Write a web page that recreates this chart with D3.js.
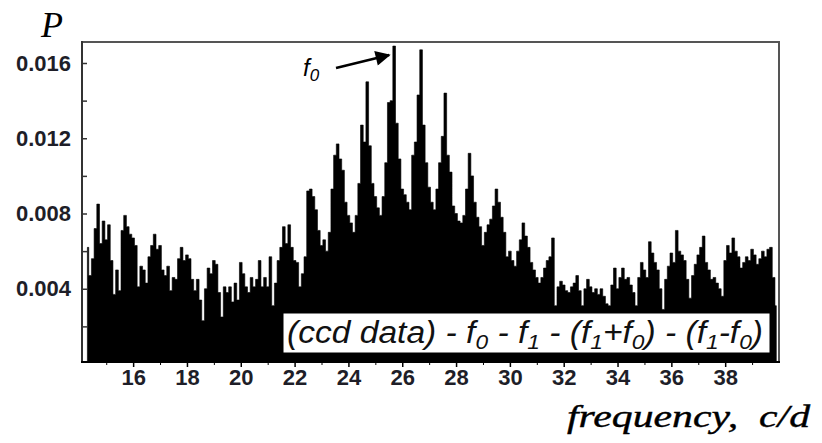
<!DOCTYPE html>
<html>
<head>
<meta charset="utf-8">
<script src="https://cdn.jsdelivr.net/npm/d3@7"></script>
<style>
  body { margin: 0; background: #fff; }
  svg { display: block; }
</style>
</head>
<body>
<svg id="periodogram"></svg>
<script>
// Frequency grid (c/d): first value and spacing of the sampled spectrum
const freqStart = 14.3;
const freqStep = 0.1;

// Power in units of 1e-3, one value per grid step
const power = [
  // 14.3 - 14.9
  6.2, 4.7, 5.6, 7.2, 8.5, 6.4, 7.6,
  // 15.0 - 15.9
  6.6, 7.4, 5.5, 3.7, 5.0, 3.9, 7.1, 7.9, 7.3, 6.9,
  // 16
  6.7, 6.3, 4.1, 5.2, 5.0, 4.3, 5.7, 6.3, 6.9, 6.1,
  // 17
  6.3, 5.0, 4.7, 5.2, 3.9, 4.6, 4.5, 5.6, 6.2, 5.5,
  // 18
  5.8, 5.6, 4.5, 3.9, 4.5, 3.4, 2.3, 4.0, 5.1, 4.8,
  // 19
  5.5, 5.3, 3.8, 2.5, 4.1, 3.8, 4.1, 3.3, 4.3, 3.4,
  // 20
  5.4, 4.8, 4.1, 3.8, 4.6, 4.1, 4.5, 5.5, 4.1, 4.6,
  // 21
  4.1, 5.7, 3.1, 4.3, 5.5, 6.2, 7.3, 6.4, 7.4, 6.2,
  // 22
  5.5, 5.4, 4.1, 4.8, 5.7, 9.2, 9.3, 8.9, 8.2, 7.1,
  // 23
  6.3, 6.6, 6.0, 7.0, 9.3, 11.1, 11.7, 10.9, 10.3, 8.6,
  // 24
  7.9, 7.5, 7.0, 7.9, 9.6, 12.7, 11.8, 15.0, 11.6, 9.6,
  // 25
  8.9, 8.3, 7.9, 8.9, 10.7, 13.9, 14.0, 16.9, 12.8, 10.9,
  // 26
  9.3, 9.0, 8.6, 8.2, 11.1, 11.8, 14.3, 16.7, 12.7, 10.7,
  // 27
  9.4, 8.6, 8.2, 9.3, 10.7, 12.1, 14.4, 11.1, 10.2, 8.4,
  // 28
  8.0, 7.6, 7.5, 7.9, 9.3, 11.2, 10.0, 8.6, 7.8, 7.3,
  // 29
  6.3, 7.0, 7.4, 7.7, 8.4, 9.3, 8.6, 7.8, 7.0, 5.7,
  // 30
  6.0, 5.5, 5.2, 6.0, 6.6, 7.5, 6.8, 6.2, 5.4, 5.0,
  // 31
  4.6, 4.3, 4.6, 5.1, 5.5, 5.7, 6.7, 3.1, 4.1, 4.4,
  // 32
  4.2, 3.9, 3.8, 4.1, 4.3, 4.7, 3.9, 3.1, 4.0, 4.5,
  // 33
  4.1, 3.8, 4.0, 3.7, 4.0, 3.6, 3.2, 3.1, 4.2, 5.1,
  // 34
  4.0, 4.6, 5.1, 4.5, 4.6, 4.2, 3.8, 3.1, 4.6, 5.4,
  // 35
  5.0, 4.6, 6.5, 5.9, 5.4, 5.0, 4.0, 2.9, 4.5, 5.2,
  // 36
  5.9, 5.4, 7.1, 6.0, 5.8, 5.5, 4.5, 3.5, 4.7, 5.3,
  // 37
  5.8, 6.2, 6.8, 5.4, 5.0, 4.5, 4.6, 4.3, 4.0, 3.6,
  // 38
  5.5, 6.3, 5.9, 6.7, 6.0, 5.7, 5.1, 5.4, 5.7, 5.5,
  // 39
  6.1, 5.8, 5.3, 5.6, 6.0, 5.7, 6.1, 6.2, 4.6, 3.1
];

// Axis ticks
const xTicksMajor = [16, 18, 20, 22, 24, 26, 28, 30, 32, 34, 36, 38];
const xTicksMinor = [15, 17, 19, 21, 23, 25, 27, 29, 31, 33, 35, 37, 39];
const yTicksMajor = [0.004, 0.008, 0.012, 0.016];
const yTicksMinor = [0.002, 0.006, 0.010, 0.014];

// Annotated peak (f0)
const f0Peak = [25.7, 0.0169];

/*
 * Layout
 */
const dims = {
  width: 822,
  height: 443,
  left: 82,
  right: 779,
  top: 42,
  bottom: 362
};

const svg = d3.select("#periodogram")
    .attr("width", dims.width)
    .attr("height", dims.height);

let x = d3.scaleLinear()
    .domain([14.1, 40])
    .range([dims.left, dims.right]);

let y = d3.scaleLinear()
    .domain([0, 0.016])
    .range([364, 63]);

let series = power.map((p, i) => [freqStart + i * freqStep, p / 1000]);

// Spectrum, drawn as a filled step area from the axis
let area = d3.area()
    .curve(d3.curveStep)
    .x(d => x(d[0]))
    .y0(dims.bottom)
    .y1(d => y(d[1]));

svg.append("path")
    .datum(series)
    .attr("fill", "#000")
    .attr("stroke", "#000")
    .attr("stroke-width", 0.6)
    .attr("d", area);

// Legend box with the prewhitening note
const note = svg.append("g");
note.append("rect")
    .attr("x", 283)
    .attr("y", 313)
    .attr("width", 487)
    .attr("height", 40)
    .attr("fill", "#fff")
    .attr("stroke", "#000")
    .attr("stroke-width", 1);

let noteText = note.append("text")
    .attr("x", 287)
    .attr("y", 343)
    .style("font-family", "Arial, 'Liberation Sans', sans-serif")
    .style("font-style", "italic")
    .style("font-size", "31px")
    .attr("fill", "#111")
    .attr("textLength", 476)
    .attr("lengthAdjust", "spacingAndGlyphs");

const noteParts = [
  ["(ccd data) - f", 0], ["0", 1], [" - f", 0], ["1", 1], [" - (f", 0], ["1", 1],
  ["+f", 0], ["0", 1], [") - (f", 0], ["1", 1], ["-f", 0], ["0", 1], [")", 0]
];
noteParts.forEach(([t, sub], i) => {
  noteText.append("tspan")
      .attr("dy", sub ? 6 : (i > 0 && noteParts[i - 1][1] ? -6 : 0))
      .style("font-size", sub ? "21px" : "31px")
      .text(t);
});

// Frame: top and right lines
svg.append("path")
    .attr("d", `M${dims.left},${dims.top}H${dims.right}V${dims.bottom}`)
    .attr("fill", "none")
    .attr("stroke", "#555")
    .attr("stroke-width", 2);

// Y axis (ticks pointing inwards)
svg.append("g")
    .attr("transform", `translate(${dims.left},0)`)
    .call(d3.axisRight(y).tickValues(yTicksMinor).tickSize(5).tickFormat(""))
    .call(g => g.select(".domain").remove())
    .call(g => g.selectAll(".tick line").attr("stroke", "#333").attr("stroke-width", 1.5));

svg.append("g")
    .attr("transform", `translate(${dims.left},0)`)
    .call(d3.axisRight(y).tickValues(yTicksMajor).tickSize(5).tickFormat(d3.format(".3f")))
    .call(g => g.select(".domain").remove())
    .call(g => g.selectAll(".tick line").attr("stroke", "#333").attr("stroke-width", 1.5))
    .call(g => g.selectAll(".tick text")
        .attr("x", -11)
        .attr("text-anchor", "end")
        .attr("fill", "#1e1e28")
        .style("font-family", "Arial, 'Liberation Sans', sans-serif")
        .style("font-weight", "bold")
        .style("font-size", "22px"));

svg.append("line")
    .attr("x1", dims.left).attr("x2", dims.left)
    .attr("y1", dims.top - 1).attr("y2", dims.bottom + 1)
    .attr("stroke", "#333")
    .attr("stroke-width", 2);

// X axis (ticks pointing down)
svg.append("g")
    .attr("transform", `translate(0,${dims.bottom})`)
    .call(d3.axisBottom(x).tickValues(xTicksMinor).tickSize(3).tickFormat(""))
    .call(g => g.select(".domain").remove())
    .call(g => g.selectAll(".tick line").attr("stroke", "#000"));

svg.append("g")
    .attr("transform", `translate(0,${dims.bottom})`)
    .call(d3.axisBottom(x).tickValues(xTicksMajor).tickSize(5).tickPadding(2))
    .call(g => g.select(".domain").remove())
    .call(g => g.selectAll(".tick line").attr("stroke", "#000").attr("stroke-width", 1.5))
    .call(g => g.selectAll(".tick text")
        .attr("fill", "#1e1e28")
        .style("font-family", "Arial, 'Liberation Sans', sans-serif")
        .style("font-weight", "bold")
        .style("font-size", "22px"));

svg.append("line")
    .attr("x1", dims.left - 1).attr("x2", dims.right + 1)
    .attr("y1", dims.bottom).attr("y2", dims.bottom)
    .attr("stroke", "#000")
    .attr("stroke-width", 2);

// Axis titles
svg.append("text")
    .attr("x", 41)
    .attr("y", 37)
    .style("font-family", "'Liberation Serif', 'Times New Roman', serif")
    .style("font-style", "italic")
    .style("font-size", "36px")
    .text("P");

svg.append("text")
    .attr("x", 567)
    .attr("y", 427)
    .style("font-family", "'Liberation Serif', 'Times New Roman', serif")
    .style("font-style", "italic")
    .style("font-size", "32px")
    .attr("stroke", "#000")
    .attr("stroke-width", 0.4)
    .attr("xml:space", "preserve")
    .attr("textLength", 243)
    .attr("lengthAdjust", "spacingAndGlyphs")
    .text("frequency,  c/d");

// f0 annotation with arrow
svg.append("defs").append("marker")
    .attr("id", "head")
    .attr("viewBox", "0 0 10 10")
    .attr("refX", 9)
    .attr("refY", 5)
    .attr("markerWidth", 8)
    .attr("markerHeight", 6)
    .attr("orient", "auto")
    .append("path")
    .attr("d", "M0,0L10,5L0,10Z")
    .attr("fill", "#000");

let f0Label = svg.append("text")
    .attr("x", 303)
    .attr("y", 76)
    .style("font-family", "Arial, 'Liberation Sans', sans-serif")
    .style("font-style", "italic")
    .style("font-size", "24px");
f0Label.append("tspan").text("f");
f0Label.append("tspan").attr("dy", 5).style("font-size", "17px").text("0");

svg.append("line")
    .attr("x1", 336)
    .attr("y1", 68)
    .attr("x2", x(f0Peak[0]) - 5)
    .attr("y2", y(f0Peak[1]) + 9)
    .attr("stroke", "#000")
    .attr("stroke-width", 2.5)
    .attr("marker-end", "url(#head)");
</script>
</body>
</html>
